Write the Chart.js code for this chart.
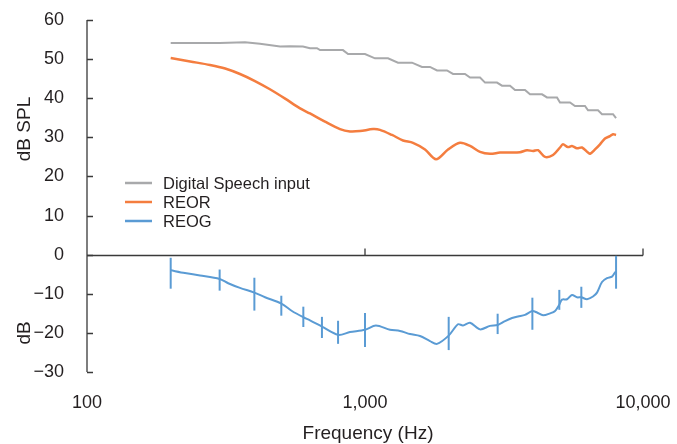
<!DOCTYPE html>
<html>
<head>
<meta charset="utf-8">
<script src="https://cdn.jsdelivr.net/npm/chart.js@4.4.1/dist/chart.umd.min.js"></script>
<style>
  html, body { margin: 0; padding: 0; background: #fff; }
  #wrap { width: 677px; height: 444px; }
</style>
</head>
<body>
<div id="wrap"><canvas id="freqChart"></canvas></div>
<script>
// values, frequency in Hz
const speechFreq  = [200, 300, 370, 419, 495, 537, 598, 634, 672, 689, 833, 869, 1000, 1086, 1210, 1314, 1476, 1603, 1713, 1816, 1972, 2073, 2289, 2387, 2593, 2703, 2984, 3110, 3324, 3464, 3763, 3922, 4333, 4515, 4905, 5028, 5463, 5693, 6184, 6342, 6889, 7121, 7802, 8000];
const speechLevel = [54.1, 54.1, 54.3, 53.9, 53.2, 53.3, 53.2, 52.8, 52.8, 52.3, 52.3, 51.3, 51.3, 50.2, 50.2, 49.1, 49.1, 48.0, 48.0, 47.1, 47.1, 46.2, 46.2, 45.3, 45.3, 44.0, 44.0, 43.2, 43.2, 42.1, 42.1, 41.0, 41.0, 40.2, 40.2, 38.9, 38.9, 38.0, 38.0, 36.9, 36.9, 35.9, 35.9, 34.9];

const reorFreq  = [200, 235, 277, 314, 355, 402, 455, 516, 584, 634, 718, 813, 883, 960, 1069, 1132, 1251, 1370, 1488, 1644, 1801, 1989, 2196, 2387, 2593, 2817, 3059, 3324, 3611, 3826, 4021, 4192, 4443, 4747, 5028, 5154, 5372, 5552, 5788, 6034, 6342, 6448, 6720, 7004, 7300, 7609, 7802, 8000];
const reorLevel = [50.3, 49.4, 48.5, 47.6, 46.2, 44.4, 42.3, 39.9, 37.4, 36.1, 34.0, 32.1, 31.5, 31.6, 32.1, 31.9, 30.6, 29.2, 28.6, 26.9, 24.4, 26.9, 28.6, 27.8, 26.3, 25.8, 26.1, 26.1, 26.2, 26.7, 26.5, 26.7, 25.0, 25.5, 27.4, 28.2, 27.5, 27.8, 27.2, 27.4, 26.1, 25.8, 26.9, 28.2, 29.7, 30.3, 30.8, 30.6];

const reogFreq = [200, 225, 255, 300, 322, 355, 400, 437, 500, 546, 600, 634, 700, 800, 883, 1000, 1095, 1230, 1336, 1452, 1577, 1713, 1816, 2000, 2160, 2251, 2387, 2593, 2817, 3000, 3189, 3380, 3551, 3763, 4000, 4157, 4370, 4630, 4827, 5000, 5112, 5330, 5552, 5788, 6000, 6289, 6609, 6832, 7121, 7422, 7737, 7933, 8000];
const reogGain = [-4.0, -4.7, -5.3, -6.2, -7.3, -8.5, -9.7, -10.9, -12.5, -14.4, -16.0, -16.8, -18.4, -20.5, -19.8, -19.2, -18.1, -19.2, -19.5, -20.3, -20.8, -22.1, -22.8, -20.7, -17.8, -18.1, -17.4, -19.1, -18.2, -18.0, -17.0, -16.2, -15.8, -15.4, -14.4, -14.8, -15.5, -15.0, -14.4, -12.8, -11.5, -11.4, -10.3, -10.9, -10.9, -11.4, -10.7, -9.7, -7.0, -6.0, -5.6, -4.5, -4.3];

// REOG spread at the test frequencies
const barFreq = [200, 300, 400, 500, 600, 700, 800, 1000, 2000, 3000, 4000, 5000, 6000, 8000];
const barHigh = [-0.8, -3.8, -5.9, -10.5, -13.3, -15.9, -16.9, -14.9, -15.9, -15.1, -11.0, -9.0, -8.2, -0.3];
const barLow  = [-8.7, -9.2, -14.3, -15.6, -18.5, -21.3, -22.8, -23.6, -24.4, -20.3, -19.2, -14.1, -13.6, -8.7];

const xTicks = [100, 1000, 10000];
const zeroLineTicks = [1000, 10000];

const GRAY = '#a8a9ab';
const ORANGE = '#f47d3f';
const BLUE = '#5a9bd4';
const INK = '#231f20';
const FONT = '"Liberation Sans", Arial, sans-serif';

const toPoints = (xs, ys) => xs.map((f, i) => ({ x: f, y: ys[i] }));

const decorations = {
    id: 'decorations',
    beforeDatasetsDraw(chart) {
        const { ctx, chartArea: area, scales: { x, y } } = chart;
        ctx.save();
        ctx.strokeStyle = '#3a3a3a';
        ctx.lineWidth = 1.3;

        // y axis with inward ticks
        ctx.beginPath();
        ctx.moveTo(area.left, area.top);
        ctx.lineTo(area.left, area.bottom);
        y.ticks.forEach(t => {
            const py = Math.round(y.getPixelForValue(t.value)) + 0.5;
            ctx.moveTo(area.left, py);
            ctx.lineTo(area.left + 6, py);
        });
        ctx.stroke();

        // frequency axis drawn at 0 dB
        const y0 = Math.round(y.getPixelForValue(0)) + 0.5;
        ctx.beginPath();
        ctx.moveTo(area.left, y0);
        ctx.lineTo(area.right, y0);
        zeroLineTicks.forEach(f => {
            const px = x.getPixelForValue(f);
            ctx.moveTo(px, y0);
            ctx.lineTo(px, y0 - 7);
        });
        ctx.stroke();
        ctx.restore();
    },
    afterDatasetsDraw(chart) {
        const { ctx, scales: { x, y } } = chart;
        ctx.save();
        ctx.strokeStyle = BLUE;
        ctx.lineWidth = 2;
        barFreq.forEach((f, i) => {
            const px = x.getPixelForValue(f);
            ctx.beginPath();
            ctx.moveTo(px, y.getPixelForValue(barHigh[i]));
            ctx.lineTo(px, y.getPixelForValue(barLow[i]));
            ctx.stroke();
        });
        ctx.restore();
    },
    afterDraw(chart) {
        const { ctx } = chart;
        ctx.save();

        // legend inside the plot
        ctx.font = '16.5px ' + FONT;
        ctx.textBaseline = 'middle';
        chart.data.datasets.forEach((ds, i) => {
            const ly = 183 + i * 19;
            ctx.strokeStyle = ds.borderColor;
            ctx.lineWidth = 2.5;
            ctx.beginPath();
            ctx.moveTo(125, ly);
            ctx.lineTo(152, ly);
            ctx.stroke();
            ctx.fillStyle = INK;
            ctx.fillText(ds.label, 163, ly + 1);
        });

        // axis titles
        ctx.font = '19px ' + FONT;
        ctx.textAlign = 'center';
        ctx.fillText('Frequency (Hz)', 368, 434);
        [['dB SPL', 129], ['dB', 333]].forEach(([txt, cy]) => {
            ctx.save();
            ctx.translate(25, cy);
            ctx.rotate(-Math.PI / 2);
            ctx.fillText(txt, 0, 0);
            ctx.restore();
        });
        ctx.restore();
    }
};

new Chart(document.getElementById('freqChart'), {
    type: 'line',
    data: {
        datasets: [
            { label: 'Digital Speech input', data: toPoints(speechFreq, speechLevel), borderColor: GRAY, borderWidth: 2 },
            { label: 'REOR', data: toPoints(reorFreq, reorLevel), borderColor: ORANGE, borderWidth: 2.5, tension: 0.3 },
            { label: 'REOG', data: toPoints(reogFreq, reogGain), borderColor: BLUE, borderWidth: 2, tension: 0.3 }
        ]
    },
    options: {
        responsive: true,
        maintainAspectRatio: false,
        animation: false,
        events: [],
        elements: { point: { radius: 0 } },
        layout: { padding: { top: 20, right: 34, left: 0, bottom: 0 } },
        plugins: {
            legend: { display: false },
            tooltip: { enabled: false }
        },
        scales: {
            x: {
                type: 'logarithmic',
                min: 100,
                max: 10000,
                afterBuildTicks: scale => { scale.ticks = xTicks.map(v => ({ value: v })); },
                afterFit: scale => {
                    scale.height = 72;
                    scale.paddingLeft = 0;
                    scale.paddingRight = 0;
                },
                grid: { display: false },
                border: { display: false },
                ticks: {
                    padding: 12,
                    maxRotation: 0,
                    autoSkip: false,
                    color: INK,
                    font: { family: FONT, size: 18 },
                    callback: v => Number(v).toLocaleString('en-US')
                }
            },
            y: {
                min: -30,
                max: 60,
                afterFit: scale => {
                    scale.width = 87;
                    scale.paddingTop = 0;
                    scale.paddingBottom = 0;
                },
                grid: { display: false },
                border: { display: false },
                ticks: {
                    stepSize: 10,
                    padding: 15,
                    color: INK,
                    font: { family: FONT, size: 18 },
                    callback: v => String(v).replace('-', '\u2212')
                }
            }
        }
    },
    plugins: [decorations]
});
</script>
</body>
</html>
